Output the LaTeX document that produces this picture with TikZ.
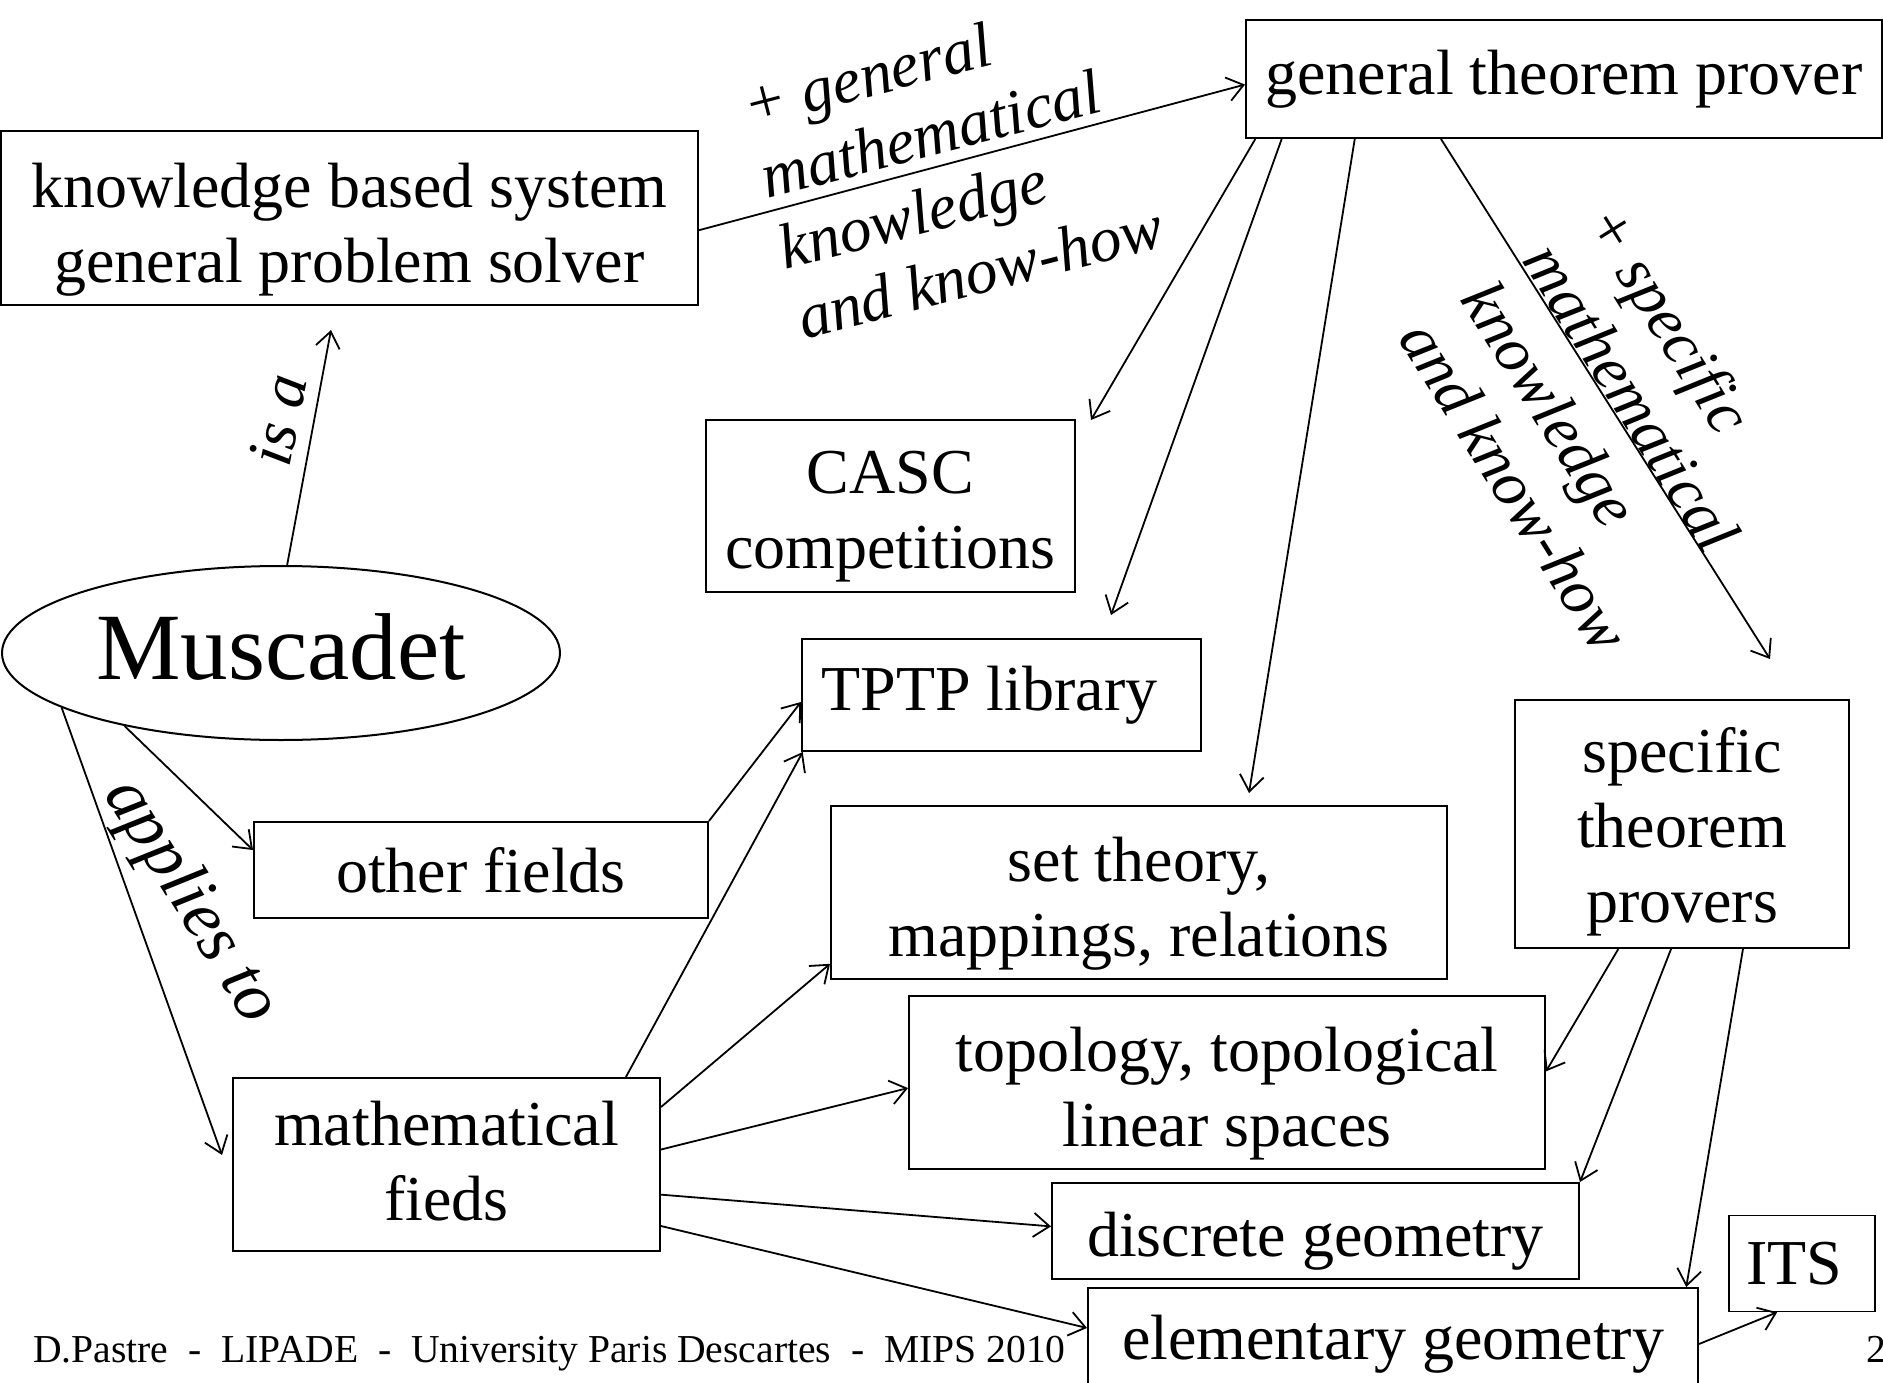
\documentclass[tikz,border=0pt]{standalone}
\usepackage{fontspec}
\setmainfont{Liberation Serif}
\usetikzlibrary{arrows.meta,shapes.geometric}
\newcommand{\dpBoxFont}{\fontsize{64}{75}\selectfont}
\newcommand{\dpLabFont}{\fontsize{64}{73}\selectfont\itshape}
\newcommand{\dpMusFont}{\fontsize{95}{110}\selectfont}
\newcommand{\dpFootFont}{\fontsize{39.6}{48}\selectfont}
% lower a text by #1 pt inside its node, keeping its size
\newcommand{\dpR}[2]{\raisebox{-#1pt}[\height][\depth]{#2}}
\newcommand{\dpT}[2]{\raisebox{-#1pt}[\height][\depth]{\begin{tabular}{@{}c@{}}#2\end{tabular}}}
\begin{document}
\begin{tikzpicture}[x=1pt,y=-1pt,
  box/.style={draw, line width=2pt, inner sep=0pt, font=\dpBoxFont},
  conn/.style={line width=1.8pt, -{Straight Barb[length=16pt,width=24pt]}},
  lab/.style={inner sep=0pt, font=\dpLabFont},
  foot/.style={inner sep=0pt, anchor=base west, font=\dpFootFont}
]
\path[fill=white] (0,0) rectangle (1883,1383);
\useasboundingbox (0,0) rectangle (1883,1383);

% boxes
\node[box, minimum width=697, minimum height=174] (kb) at (349.5,218) {\dpT{12}{knowledge based system\\general problem solver}};
\node[box, minimum width=636, minimum height=118] (gtp) at (1564,79) {general theorem prover};
\node[box, minimum width=369, minimum height=172] (casc) at (890.5,506) {\dpT{10}{CASC\\competitions}};
\node[box, minimum width=399, minimum height=112] (tptp) at (1001.5,695) {TPTP library\hspace*{24pt}};
\node[draw, ellipse, line width=2pt, inner sep=0pt, minimum width=558, minimum height=174, font=\dpMusFont] (mus) at (281,653) {\dpR{-6}{Muscadet}};
\node[box, minimum width=454, minimum height=96] (of) at (481,870) {other fields};
\node[box, minimum width=616, minimum height=173] (st) at (1139,892.5) {\dpT{11}{set theory,\\mappings, relations}};
\node[box, minimum width=334, minimum height=248] (stp) at (1682,824) {\dpT{8}{specific\\theorem\\provers}};
\node[box, minimum width=636, minimum height=173] (topo) at (1227,1082.5) {\dpT{11}{topology, topological\\linear spaces}};
\node[box, minimum width=427, minimum height=173] (mf) at (446.5,1164.5) {\dpT{3}{mathematical\\fieds}};
\node[box, minimum width=527, minimum height=96] (dg) at (1315.5,1231) {\dpR{10}{discrete geometry}};
\node[box, minimum width=610, minimum height=112] (eg) at (1393,1344) {elementary geometry};
\node[box, minimum width=146, minimum height=96, line width=1.5pt] (its) at (1802,1263.5) {ITS\hspace*{15pt}};

% free ends
\coordinate (isaEnd) at (331,330);
\coordinate (cascEnd) at (1091,420);
\coordinate (tptpEnd) at (1111,615);
\coordinate (stEnd) at (1249,793);
\coordinate (stpEnd) at (1770,659);
\coordinate (mfEnd) at (222,1155);

% connectors
\draw[conn] (mus.86) -- (isaEnd);
\draw[conn] (kb.-2) -- (gtp.181.4);
\draw[conn] (gtp.191) -- (cascEnd);
\draw[conn] (gtp.192.7) -- (tptpEnd);
\draw[conn] (gtp.196.7) -- (stEnd);
\draw[conn] (gtp.206.4) -- (stpEnd);
\draw[conn] (mus.205.5) -- (of.175.5);
\draw[conn] (mus.194.5) -- (mfEnd);
\draw[conn] (of.north east) -- (tptp.182.3);
\draw[conn] (mf.26.2) -- (tptp.196.5);
\draw[conn] (mf.15.1) -- (st.193.2);
\draw[conn] (mf.4.7) -- (topo.181.7);
\draw[conn] (mf.-8.7) -- (dg.179.5);
\draw[conn] (mf.-16.3) -- (eg.177);
\draw[conn] (stp.243.1) -- (topo.2.9);
\draw[conn] (stp.265.8) -- (dg.north east);
\draw[conn] (stp.-64.6) -- (eg.11.8);
\draw[conn] (eg.-0.75) -- (its.243.4);

% labels
\node[lab, rotate=79] (isa) at (278,420) {is a};
\node[lab, rotate=14.5, anchor=base west] (gk) at (749,128)
  {\begin{tabular}[t]{@{}l@{}}+ general\\mathematical\\knowledge\\and know-how\end{tabular}};
\node[lab, rotate=-58, anchor=base west] (sk) at (1583,222)
  {\begin{tabular}[t]{@{}l@{}}+ specific\\mathematical\\knowledge\\and know-how\end{tabular}};
\node[lab, rotate=-58, anchor=base west, font=\fontsize{70}{80}\selectfont\itshape] (ap) at (103,794) {applies to};

% footer
\node[foot] (footer) at (33,1362) {D.Pastre~~-~~LIPADE~~-~~University Paris Descartes~~-~~MIPS 2010};
\node[foot] (pagenum) at (1866,1362) {2};
\end{tikzpicture}
\end{document}
